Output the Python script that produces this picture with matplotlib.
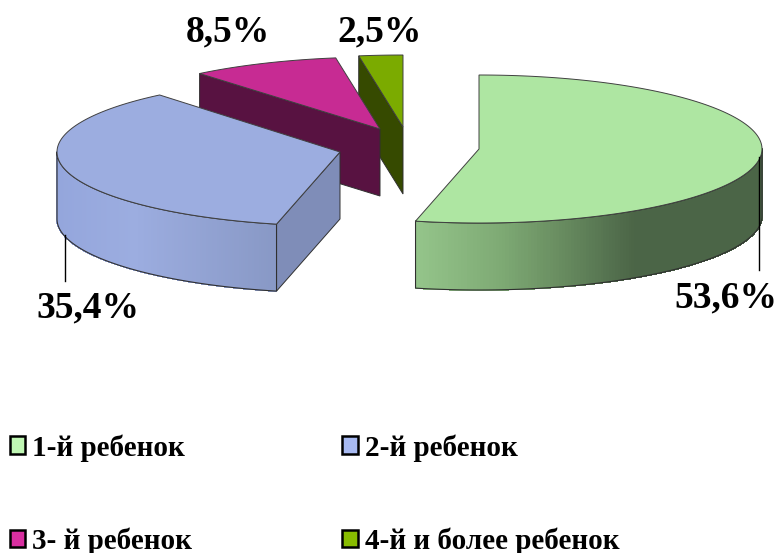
import numpy as np
import matplotlib
matplotlib.use('Agg')
import matplotlib.pyplot as plt
from matplotlib.patches import Polygon, Patch
from matplotlib.collections import PolyCollection
from matplotlib.colors import LinearSegmentedColormap

categories = ['1-й ребенок', '2-й ребенок', '3- й ребенок', '4-й и более ребенок']
shares = [53.6, 35.4, 8.5, 2.5]
value_labels = ['53,6%', '35,4%', '8,5%', '2,5%']

top_colors = ['#aee6a2', '#9cade0', '#c72b93', '#7bab00']
face_colors = ['#4b6547', '#7f8db8', '#581241', '#364a00']
legend_colors = ['#c0f7b4', '#a8baf2', '#d82fa0', '#88bc00']

# slice apex in picture pixels (exploded pie)
apex = [(479, 149), (340, 152), (380, 129), (403, 127)]
radius_y = [74, 74, 72, 72]
RX, DEPTH = 283, 67

# side shading, left to right along each rim
rim_x = [[416, 500, 560, 633, 762], [57, 133, 277]]
rim_rgb = [['#94c48a', '#7eaa74', '#688c60', '#4b6547', '#4b6547'],
           ['#94a6dc', '#9cade0', '#8898c5']]

plt.rcParams['font.family'] = ['Liberation Serif', 'DejaVu Serif']
plt.rcParams['font.weight'] = 'bold'

fig = plt.figure(figsize=(7.78, 5.53), dpi=100)
ax = fig.add_axes([0, 0, 1, 1])
ax.set_xlim(0, 778)
ax.set_ylim(553, 0)
ax.axis('off')


def rim_point(c, ry, deg):
    a = np.radians(deg)
    return c[0] + RX * np.sin(a), c[1] - ry * np.cos(a)


edges = np.concatenate([[0], np.cumsum(shares) / np.sum(shares) * 360])

# back slices first so the front ones cover them
for i in range(len(shares) - 1, -1, -1):
    c = apex[i]
    ry = radius_y[i]
    a0, a1 = edges[i], edges[i + 1]

    # cut face on the starting radius
    if np.sin(np.radians(a0)) < -1e-6:
        px, py = rim_point(c, ry, a0)
        ax.add_patch(Polygon([c, (px, py), (px, py + DEPTH), (c[0], c[1] + DEPTH)],
                             facecolor=face_colors[i], edgecolor='#303030', lw=0.7, zorder=i * -10 + 1))

    # outer wall, only the part facing us
    lo, hi = max(a0, 90), min(a1, 270)
    if hi > lo:
        ang = np.linspace(lo, hi, 160)
        x, y = rim_point(c, ry, ang)
        if i < len(rim_x):
            cmap = LinearSegmentedColormap.from_list('rim', list(zip(
                (np.array(rim_x[i]) - rim_x[i][0]) / (rim_x[i][-1] - rim_x[i][0]), rim_rgb[i])))
            t = (0.5 * (x[:-1] + x[1:]) - rim_x[i][0]) / (rim_x[i][-1] - rim_x[i][0])
            quads = [[(x[k], y[k]), (x[k + 1], y[k + 1]), (x[k + 1], y[k + 1] + DEPTH), (x[k], y[k] + DEPTH)]
                     for k in range(len(x) - 1)]
            ax.add_collection(PolyCollection(quads, facecolors=cmap(t), edgecolors=cmap(t), linewidths=0.6,
                                             antialiaseds=False, zorder=i * -10 + 2))
        outline = list(zip(x, y)) + list(zip(x[::-1], y[::-1] + DEPTH))
        ax.add_patch(Polygon(outline, fill=False, edgecolor='#303030', lw=0.8, zorder=i * -10 + 3))

    # top face
    ang = np.linspace(a0, a1, 200)
    x, y = rim_point(c, ry, ang)
    ax.add_patch(Polygon([c] + list(zip(x, y)), facecolor=top_colors[i], edgecolor='#404040', lw=0.7,
                         zorder=i * -10 + 4))

# leader lines
ax.plot([759, 759], [157, 270], color='black', lw=1.0, zorder=5)
ax.plot([65.5, 65.5], [235, 281], color='black', lw=1.0, zorder=5)

# value labels
label_xy = [(726, 298), (88, 308), (228, 32), (380, 32)]
for txt, (lx, ly) in zip(value_labels, label_xy):
    ax.text(lx, ly, txt, fontsize=27, fontweight='bold', ha='center', va='center', color='black', zorder=6)

# legend fills by column, so pass the entries in that order to get rows 1,2 / 3,4
order = [0, 2, 1, 3]
handles = [Patch(facecolor=legend_colors[k], edgecolor='black', linewidth=1.8) for k in order]
ax.legend(handles, [categories[k] for k in order], ncol=2, frameon=False, loc='upper left',
          bbox_to_anchor=(10 / 778, 1 - 434 / 553), fontsize=21, handlelength=0.52, handleheight=0.55,
          handletextpad=0.24, labelspacing=2.25, columnspacing=5.15, borderpad=0, borderaxespad=0)

fig.savefig('out.png', dpi=100)
